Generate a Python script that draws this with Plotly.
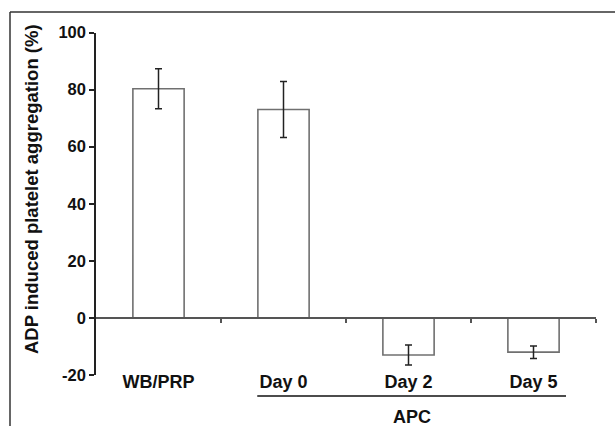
import plotly.graph_objects as go

categories = ["WB/PRP", "Day 0", "Day 2", "Day 5"]
values = [80.3, 73.0, -13.0, -12.0]
errors = [7.0, 9.8, 3.5, 2.2]
y_ticks = [-20, 0, 20, 40, 60, 80, 100]
y_tick_text = ["-20", "0", "20", "40", "60", "80", "100"]
y_title = "ADP induced platelet aggregation (%)"
group_label = "APC"
group_span = [0.79, 3.26]   # category-axis extent of the APC group line

W, H = 615, 426
FONT = "Liberation Sans, Arial, sans-serif"

fig = go.Figure()
fig.add_trace(go.Bar(
    x=categories, y=values, width=0.41,
    marker=dict(color="white", line=dict(color="#707070", width=1.6)),
    error_y=dict(type="data", array=errors, visible=True, color="#222",
                 thickness=1.5, width=3.5),
    showlegend=False,
))
# invisible trace to carry the zero-line axis
fig.add_trace(go.Scatter(x=[0], y=[0], xaxis="x2", mode="markers",
                         marker=dict(opacity=0), showlegend=False, hoverinfo="skip"))

ydom = [(H - 375) / H, (H - 32.5) / H]
fig.update_layout(
    width=W, height=H, margin=dict(l=0, r=0, t=0, b=0),
    paper_bgcolor="white", plot_bgcolor="white",
    font=dict(family=FONT, color="#111"),
    xaxis=dict(domain=[96 / W, 596 / W], type="category", range=[-0.5, 3.5],
               showline=False, ticks="", showgrid=False, automargin=False,
               ticklabelstandoff=-6,
               tickfont=dict(size=18, weight="bold", family=FONT, color="#111")),
    xaxis2=dict(overlaying="x", anchor="free", position=(H - 318) / H,
                range=[-0.5, 3.5], showline=True, linecolor="#555", linewidth=1.5,
                ticks="outside", tickvals=[0.5, 1.5, 2.5, 3.5], ticklen=4,
                tickwidth=1.5, tickcolor="#555", showticklabels=False,
                showgrid=False, zeroline=False, automargin=False),
    yaxis=dict(domain=ydom, range=[-20, 100], tickvals=y_ticks, ticktext=y_tick_text,
               showline=True, linecolor="#222", linewidth=1.5,
               ticks="outside", ticklen=5, tickwidth=1.5, tickcolor="#222",
               showgrid=False, zeroline=False, automargin=False,
               tickfont=dict(size=16.5, weight="bold", family=FONT, color="#111")),
)

fig.add_annotation(text=y_title, xref="paper", yref="paper",
                   x=32 / W, y=(H - 189) / H, xanchor="center", yanchor="middle",
                   textangle=-90, showarrow=False,
                   font=dict(size=18.5, weight="bold", family=FONT, color="#111"))
fig.add_shape(type="line", xref="x2", yref="paper",
              x0=group_span[0], x1=group_span[1],
              y0=(H - 396) / H, y1=(H - 396) / H,
              line=dict(color="#111", width=1.5))
fig.add_annotation(text=group_label, xref="x2", yref="paper",
                   x=sum(group_span) / 2, y=(H - 417) / H, yanchor="middle",
                   showarrow=False, font=dict(size=18, weight="bold", family=FONT, color="#111"))
# frame lines (left and top)
fig.add_shape(type="line", xref="paper", yref="paper",
              x0=10 / W, x1=10 / W, y0=0, y1=(H - 12) / H,
              line=dict(color="#333", width=1.5))
fig.add_shape(type="line", xref="paper", yref="paper",
              x0=10 / W, x1=1, y0=(H - 12) / H, y1=(H - 12) / H,
              line=dict(color="#333", width=1.5))

fig.write_html("out.html")
